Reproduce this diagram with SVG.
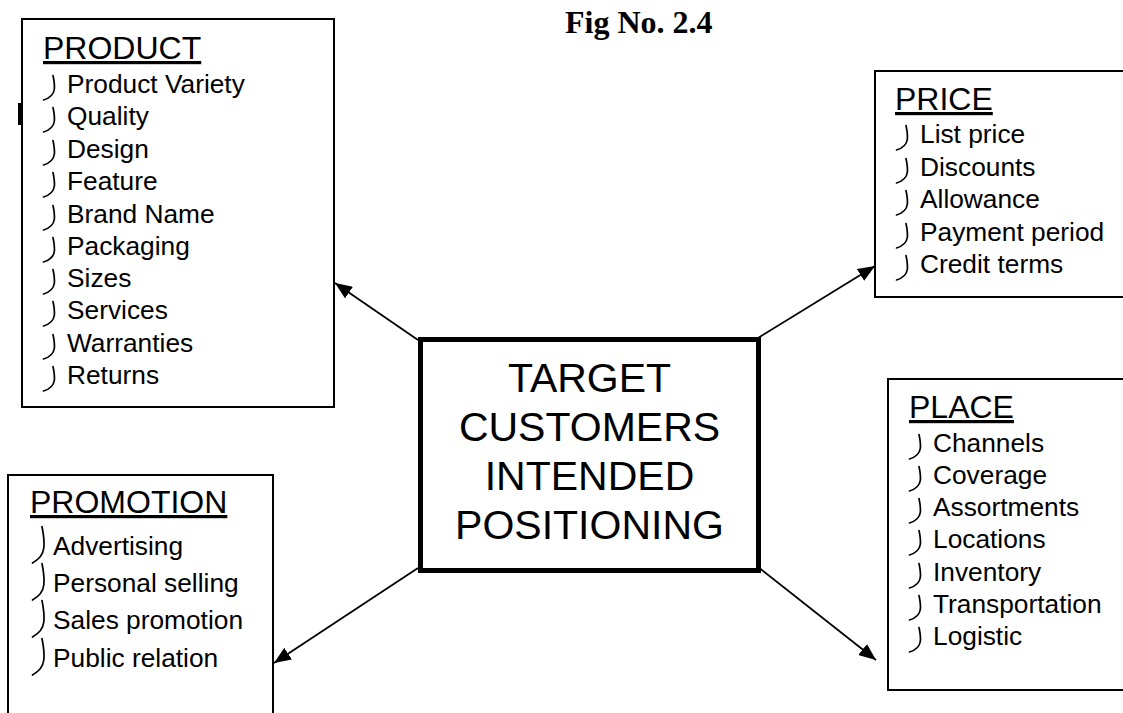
<svg xmlns="http://www.w3.org/2000/svg" xmlns:xlink="http://www.w3.org/1999/xlink" width="1123" height="713" viewBox="0 0 1123 713">
  <style>
    .box { fill: #fff; stroke: #000; stroke-width: 2; }
    .core { fill: #fff; stroke: #000; stroke-width: 5; }
    .head { font-family: "Liberation Sans", Arial, sans-serif; font-size: 32px; text-decoration: underline; fill: #000; }
    .item { font-family: "Liberation Sans", Arial, sans-serif; font-size: 26.3px; fill: #000; }
    .core-text { font-family: "Liberation Sans", Arial, sans-serif; font-size: 41px; fill: #000; text-anchor: middle; }
    .fig { font-family: "Liberation Serif", "Times New Roman", serif; font-size: 32px; font-weight: bold; fill: #000; }
    .link { stroke: #000; stroke-width: 1.8; fill: none; marker-end: url(#arrow); }
    .tick { fill: none; stroke: #000; stroke-width: 1.7; stroke-linecap: round; }
  </style>
  <defs>
    <marker id="arrow" markerUnits="userSpaceOnUse" markerWidth="18" markerHeight="14" refX="17" refY="7" orient="auto">
      <path d="M0,0 L17,7 L0,14 Z" fill="#000"/>
    </marker>
    <!-- curved bullet marks: near-vertical stem with a tail sweeping left -->
    <path id="tick" class="tick" d="M10,0.5 C11,5 11.8,10 11.3,14.5 C10.5,20 5.5,23.5 0.5,25"/>
    <path id="tickTall" class="tick" d="M10,0.5 C11.5,8 12.5,16 11.8,22 C11,29 6,34 0.5,37"/>
  </defs>

  <rect width="1123" height="713" fill="#fff"/>

  <text class="fig" x="565" y="33">Fig No. 2.4</text>

  <!-- connectors from the centre outwards -->
  <g id="connectors">
    <line class="link" x1="418" y1="340" x2="335" y2="283"/>
    <line class="link" x1="758" y1="338" x2="875" y2="266"/>
    <line class="link" x1="418" y1="568" x2="274" y2="663"/>
    <line class="link" x1="758" y1="567" x2="876" y2="660"/>
  </g>

  <g id="product">
    <rect class="box" x="22" y="19" width="312" height="388"/>
    <rect x="18" y="103" width="4" height="22" fill="#000"/>
    <text class="head" x="43" y="59">PRODUCT</text>
    <use xlink:href="#tick" x="43" y="75"/>
    <text class="item" x="67" y="93">Product Variety</text>
    <use xlink:href="#tick" x="43" y="107"/>
    <text class="item" x="67" y="125">Quality</text>
    <use xlink:href="#tick" x="43" y="140"/>
    <text class="item" x="67" y="158">Design</text>
    <use xlink:href="#tick" x="43" y="172"/>
    <text class="item" x="67" y="190">Feature</text>
    <use xlink:href="#tick" x="43" y="205"/>
    <text class="item" x="67" y="223">Brand Name</text>
    <use xlink:href="#tick" x="43" y="237"/>
    <text class="item" x="67" y="255">Packaging</text>
    <use xlink:href="#tick" x="43" y="269"/>
    <text class="item" x="67" y="287">Sizes</text>
    <use xlink:href="#tick" x="43" y="301"/>
    <text class="item" x="67" y="319">Services</text>
    <use xlink:href="#tick" x="43" y="334"/>
    <text class="item" x="67" y="352">Warranties</text>
    <use xlink:href="#tick" x="43" y="366"/>
    <text class="item" x="67" y="384">Returns</text>
  </g>

  <g id="price">
    <rect class="box" x="875" y="71" width="260" height="226"/>
    <text class="head" x="895" y="110">PRICE</text>
    <use xlink:href="#tick" x="896" y="125"/>
    <text class="item" x="920" y="143">List price</text>
    <use xlink:href="#tick" x="896" y="158"/>
    <text class="item" x="920" y="176">Discounts</text>
    <use xlink:href="#tick" x="896" y="190"/>
    <text class="item" x="920" y="208">Allowance</text>
    <use xlink:href="#tick" x="896" y="223"/>
    <text class="item" x="920" y="241">Payment period</text>
    <use xlink:href="#tick" x="896" y="255"/>
    <text class="item" x="920" y="273">Credit terms</text>
  </g>

  <g id="place">
    <rect class="box" x="888" y="379" width="250" height="311"/>
    <text class="head" x="909" y="418">PLACE</text>
    <use xlink:href="#tick" x="909" y="434"/>
    <text class="item" x="933" y="452">Channels</text>
    <use xlink:href="#tick" x="909" y="466"/>
    <text class="item" x="933" y="484">Coverage</text>
    <use xlink:href="#tick" x="909" y="498"/>
    <text class="item" x="933" y="516">Assortments</text>
    <use xlink:href="#tick" x="909" y="530"/>
    <text class="item" x="933" y="548">Locations</text>
    <use xlink:href="#tick" x="909" y="563"/>
    <text class="item" x="933" y="581">Inventory</text>
    <use xlink:href="#tick" x="909" y="595"/>
    <text class="item" x="933" y="613">Transportation</text>
    <use xlink:href="#tick" x="909" y="627"/>
    <text class="item" x="933" y="645">Logistic</text>
  </g>

  <g id="promotion">
    <rect class="box" x="8" y="475" width="265" height="260"/>
    <text class="head" x="30" y="513">PROMOTION</text>
    <use xlink:href="#tickTall" x="32" y="526"/>
    <text class="item" x="53" y="555">Advertising</text>
    <use xlink:href="#tickTall" x="32" y="563"/>
    <text class="item" x="53" y="592">Personal selling</text>
    <use xlink:href="#tickTall" x="32" y="600"/>
    <text class="item" x="53" y="629">Sales promotion</text>
    <use xlink:href="#tickTall" x="32" y="638"/>
    <text class="item" x="53" y="667">Public relation</text>
  </g>

  <g id="target">
    <rect class="core" x="420.5" y="339.5" width="338" height="231"/>
    <text class="core-text" x="589.5" y="392">TARGET</text>
    <text class="core-text" x="589.5" y="441">CUSTOMERS</text>
    <text class="core-text" x="589.5" y="490">INTENDED</text>
    <text class="core-text" x="589.5" y="539">POSITIONING</text>
  </g>
</svg>
